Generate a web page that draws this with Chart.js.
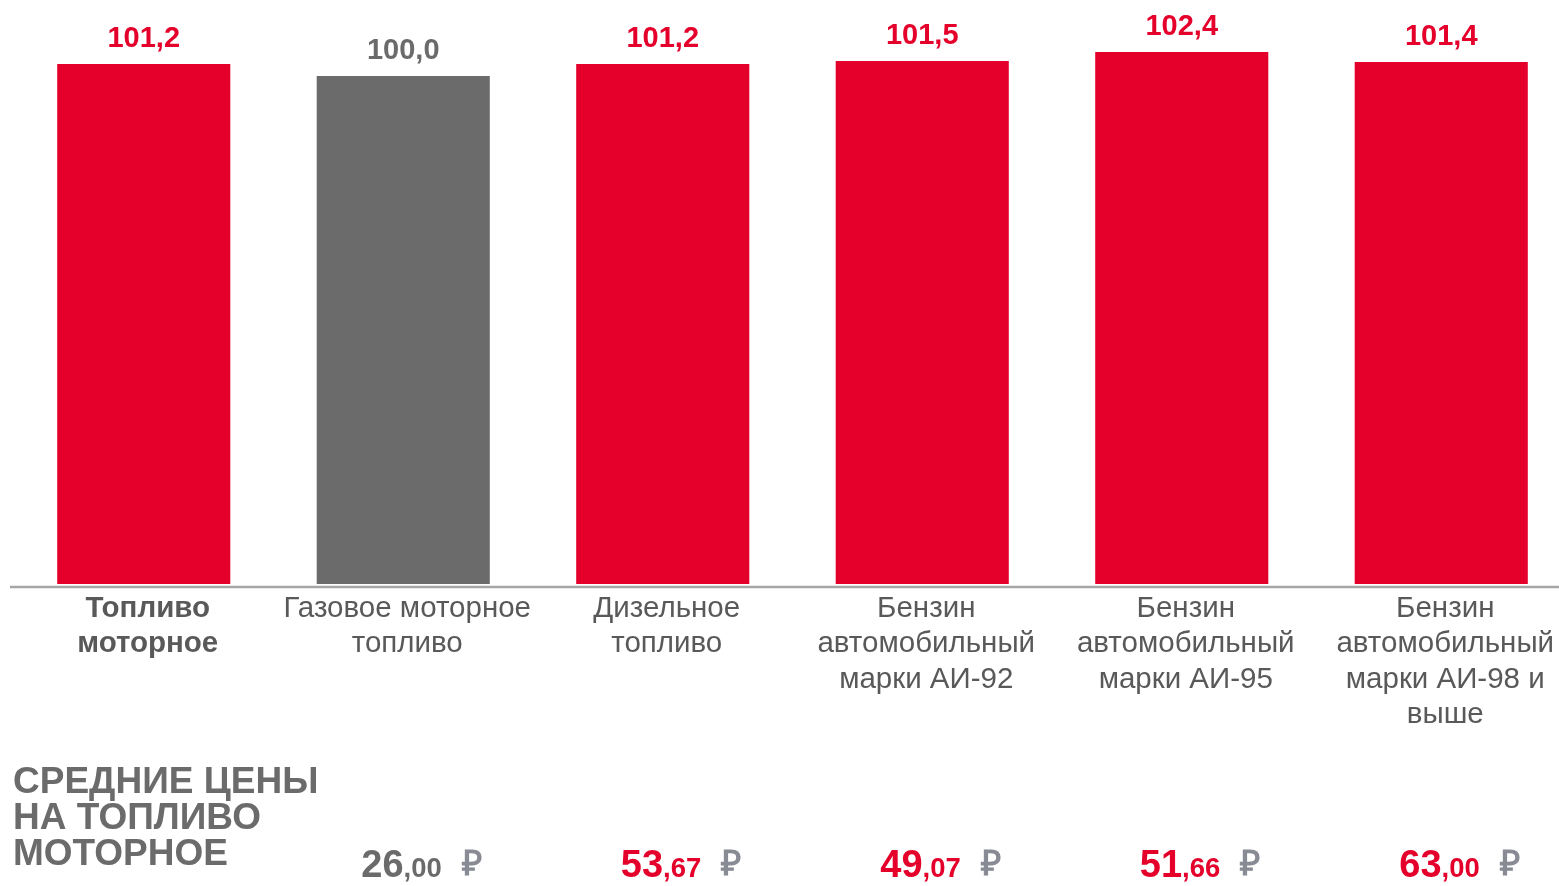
<!DOCTYPE html>
<html lang="ru">
<head>
<meta charset="utf-8">
<title>Индексы цен на топливо моторное</title>
<script src="https://cdn.jsdelivr.net/npm/chart.js@4.4.1/dist/chart.umd.min.js"></script>
<style>
    html, body { margin: 0; padding: 0; background: #fff; overflow: hidden; }
    #wrap { width: 1572px; height: 886px; position: relative; }
</style>
</head>
<body>
<div id="wrap"><canvas id="fuelChart"></canvas></div>
<script>
// данные
const categories = [
    ['Топливо', 'моторное'],
    ['Газовое моторное', 'топливо'],
    ['Дизельное', 'топливо'],
    ['Бензин', 'автомобильный', 'марки АИ-92'],
    ['Бензин', 'автомобильный', 'марки АИ-95'],
    ['Бензин', 'автомобильный', 'марки АИ-98 и', 'выше']
];
const indexValues = [101.2, 100.0, 101.2, 101.5, 102.4, 101.4];
const avgPrices = [null, 26.00, 53.67, 49.07, 51.66, 63.00];
const summaryTitle = ['СРЕДНИЕ ЦЕНЫ', 'НА ТОПЛИВО', 'МОТОРНОЕ'];

// стиль
const RED = '#E4002B';
const GRAY = '#6B6B6B';
const barColors = [RED, GRAY, RED, RED, RED, RED];
const FONT = '"Liberation Sans", Arial, sans-serif';

const valueLabels = {
    id: 'valueLabels',
    afterDatasetsDraw(chart) {
        const ctx = chart.ctx;
        ctx.save();
        ctx.font = 'bold 29px ' + FONT;
        ctx.textAlign = 'center';
        ctx.textBaseline = 'alphabetic';
        chart.getDatasetMeta(0).data.forEach((bar, i) => {
            ctx.fillStyle = barColors[i];
            ctx.fillText(indexValues[i].toFixed(1).replace('.', ','), bar.x, bar.y - 17);
        });
        ctx.restore();
    }
};

const priceRow = {
    id: 'priceRow',
    afterDraw(chart) {
        const ctx = chart.ctx;
        const xs = chart.scales.x;
        ctx.save();

        // линия оси
        ctx.strokeStyle = '#A6A6A6';
        ctx.lineWidth = 2.5;
        ctx.beginPath();
        ctx.moveTo(chart.chartArea.left - 4, xs.top + 3);
        ctx.lineTo(chart.width, xs.top + 3);
        ctx.stroke();

        ctx.textAlign = 'left';
        ctx.textBaseline = 'alphabetic';
        ctx.fillStyle = GRAY;
        ctx.font = 'bold 37px ' + FONT;
        summaryTitle.forEach((line, i) => ctx.fillText(line, 13, 793 + i * 36));

        avgPrices.forEach((p, i) => {
            if (p == null) return;
            const parts = p.toFixed(2).split('.');
            let px = xs.getPixelForValue(i) - 42;
            const py = 877;
            ctx.fillStyle = barColors[i];
            ctx.font = 'bold 38px ' + FONT;
            ctx.fillText(parts[0], px, py);
            px += ctx.measureText(parts[0]).width;
            ctx.font = 'bold 27.5px ' + FONT;
            ctx.fillText(',' + parts[1], px, py);
            px += ctx.measureText(',' + parts[1]).width + 20;
            ctx.fillStyle = '#888B94';
            ctx.font = 'bold 35px ' + FONT;
            ctx.fillText('₽', px, py - 2);
        });
        ctx.restore();
    }
};

document.addEventListener('DOMContentLoaded', () => {
    const ctx = document.getElementById('fuelChart').getContext('2d');

    new Chart(ctx, {
        type: 'bar',
        data: {
            labels: categories,
            datasets: [{
                data: indexValues,
                backgroundColor: barColors,
                borderWidth: 0,
                categoryPercentage: 1,
                barPercentage: 0.667
            }]
        },
        options: {
            responsive: true,
            maintainAspectRatio: false,
            animation: false,
            layout: {
                padding: { left: 14, right: 1, top: 0, bottom: 0 }
            },
            scales: {
                y: {
                    display: false,
                    min: 49.2,
                    max: 107.6
                },
                x: {
                    grid: { display: false, drawTicks: false },
                    border: { display: false },
                    afterFit: scale => { scale.height = 302; },
                    ticks: {
                        autoSkip: false,
                        maxRotation: 0,
                        minRotation: 0,
                        padding: 7,
                        labelOffset: 4,
                        color: '#595959',
                        font: c => ({
                            family: FONT,
                            size: 29.5,
                            lineHeight: 1.2,
                            weight: c.index === 0 ? 'bold' : 'normal'
                        })
                    }
                }
            },
            plugins: {
                legend: { display: false },
                tooltip: { enabled: false }
            }
        },
        plugins: [valueLabels, priceRow]
    });
});
</script>
</body>
</html>
